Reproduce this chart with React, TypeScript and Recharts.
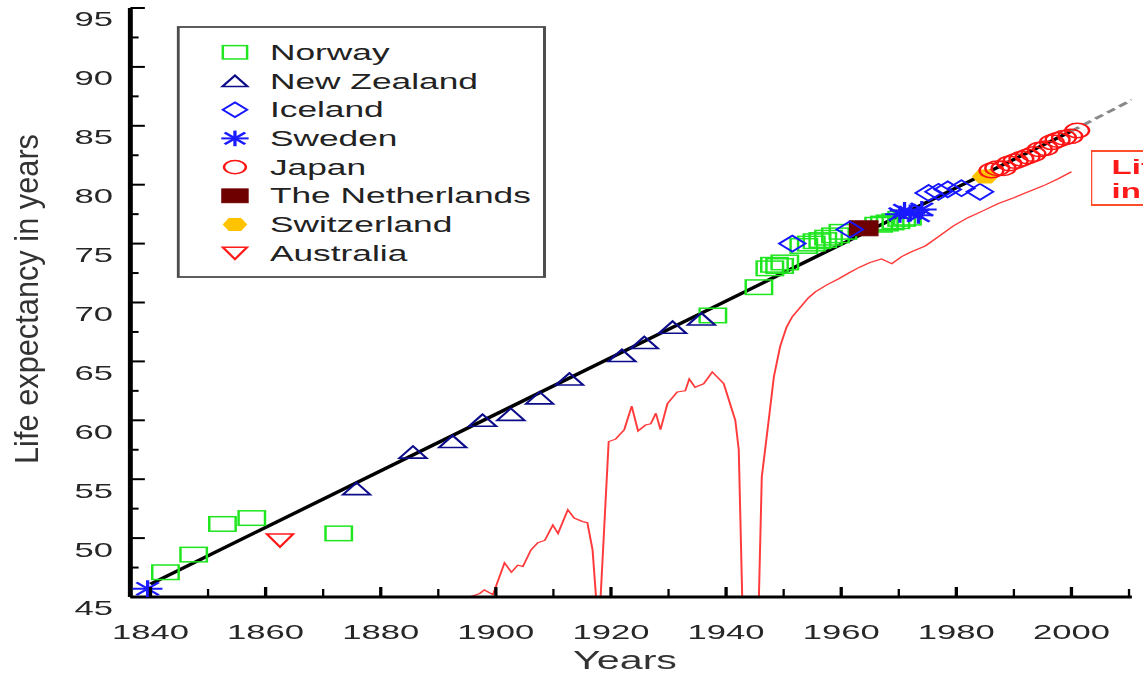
import React from 'react';
import { ComposedChart, XAxis, YAxis, Scatter, Line, Legend } from 'recharts';

const FONT = "'Liberation Sans', Arial, Helvetica, sans-serif";
const SX = 1.65; // the reference is stretched horizontally
const CW = 693;
const CH = 673;

const X_DOMAIN: [number, number] = [1836.5, 2010.5];
const Y_DOMAIN: [number, number] = [45, 95];
const X_TICKS = [1840, 1850, 1860, 1870, 1880, 1890, 1900, 1910, 1920, 1930, 1940, 1950, 1960, 1970, 1980, 1990, 2000, 2010];
const X_LABELS = [1840, 1860, 1880, 1900, 1920, 1940, 1960, 1980, 2000];
const Y_TICKS = [45, 47.5, 50, 52.5, 55, 57.5, 60, 62.5, 65, 67.5, 70, 72.5, 75, 77.5, 80, 82.5, 85, 87.5, 90, 92.5, 95];
const Y_LABELS = [45, 50, 55, 60, 65, 70, 75, 80, 85, 90, 95];

const NORWAY: [number, number][] = [
  [1842.6, 47.1], [1847.5, 48.6], [1852.5, 51.2], [1857.6, 51.7], [1872.7, 50.4],
  [1937.7, 68.9], [1945.7, 71.3], [1947.6, 72.9], [1948.4, 73.2], [1949.3, 73.1], [1950.2, 73.4],
  [1953.5, 74.8], [1954.8, 75.0], [1955.8, 75.2], [1956.8, 75.3], [1957.8, 75.5], [1959.0, 75.7], [1960.3, 76.0],
  [1966.5, 76.6], [1967.5, 76.7], [1968.5, 76.8], [1969.5, 76.9], [1970.5, 77.1], [1971.5, 77.2],
];
const NEW_ZEALAND: [number, number][] = [
  [1875.8, 54.2], [1885.6, 57.3], [1892.5, 58.2], [1897.7, 60.0], [1902.6, 60.5], [1907.6, 61.9],
  [1912.8, 63.5], [1921.9, 65.5], [1925.8, 66.6], [1930.7, 67.9], [1935.7, 68.6],
];
const ICELAND: [number, number][] = [
  [1951.5, 75.0], [1961.5, 76.2], [1975.2, 79.3], [1976.9, 79.4], [1978.5, 79.6], [1980.9, 79.7], [1984.1, 79.4],
];
const SWEDEN: [number, number][] = [
  [1839.5, 45.7], [1970.2, 77.5], [1971.0, 77.8], [1972.0, 77.6], [1973.4, 77.4], [1974.0, 77.9],
];
const JAPAN: [number, number][] = [
  [1986.1, 81.2], [1987.1, 81.4], [1988.2, 81.4], [1989.2, 81.8], [1990.3, 82.0], [1991.3, 82.2], [1992.4, 82.4],
  [1993.4, 82.6], [1994.5, 83.0], [1995.5, 83.1], [1996.6, 83.6], [1997.6, 83.8], [1998.7, 84.0], [1999.8, 84.1], [2001.0, 84.6],
];
const NETHERLANDS: [number, number][] = [[1963.9, 76.3]];
const SWITZERLAND: [number, number][] = [[1985.0, 80.7]];
const AUSTRALIA: [number, number][] = [[1862.5, 49.8]];

const TREND_SOLID: [number, number][] = [[1840, 46.1], [2000, 84.55]];
const TREND_DASHED: [number, number][] = [[2000, 84.55], [2010.5, 87.2]];

const GERMANY_LINE: [number, number][] = [
  [1895.4, 45.0], [1897.2, 45.3], [1898.0, 45.6], [1899.5, 45.2], [1901.5, 47.9], [1902.7, 47.1], [1903.8, 47.7],
  [1904.7, 47.6], [1906.1, 49.0], [1907.3, 49.6], [1908.5, 49.8], [1909.9, 51.1], [1910.8, 50.4], [1912.5, 52.4],
  [1913.6, 51.7], [1915.1, 51.4], [1915.9, 51.3], [1916.8, 49.0], [1917.4, 45.0], [1918.2, 45.0], [1919.6, 58.2],
  [1920.8, 58.4], [1922.3, 59.2], [1923.6, 61.2], [1924.7, 59.1], [1926.0, 59.6], [1926.9, 59.7], [1927.8, 60.6],
  [1928.6, 59.2], [1929.8, 61.4], [1931.5, 62.4], [1932.9, 62.5], [1933.6, 63.5], [1934.6, 62.8], [1936.1, 63.1],
  [1937.6, 64.1], [1939.6, 63.1], [1941.6, 60.0], [1942.2, 57.5], [1942.8, 45.0], [1945.7, 45.0], [1946.2, 55.2],
  [1947.4, 60.0], [1948.3, 63.7], [1949.4, 66.3], [1950.5, 67.9], [1951.5, 68.8], [1952.9, 69.6], [1954.3, 70.4],
  [1955.5, 70.9], [1957.5, 71.5], [1959.5, 72.0], [1961.3, 72.5], [1963.2, 73.0], [1965.0, 73.4], [1967.0, 73.7],
  [1968.8, 73.3], [1970.5, 73.9], [1972.2, 74.3], [1974.6, 74.8], [1976.9, 75.6], [1979.5, 76.5], [1982.0, 77.2],
  [1984.7, 77.8], [1987.3, 78.4], [1990.0, 78.9], [1992.5, 79.4], [1995.1, 79.9], [1997.7, 80.5], [2000.0, 81.1],
];

const toPts = (arr: [number, number][]) => arr.map(([x, y]) => ({ x, y }));

type Kind = 'square' | 'triUp' | 'diamond' | 'star' | 'circle' | 'filledSquare' | 'hexFilled' | 'triDown';

const COLORS: Record<Kind, string> = {
  square: '#1fe61f',
  triUp: '#0c0c8a',
  diamond: '#1616ff',
  star: '#1a1aff',
  circle: '#ff1414',
  filledSquare: '#6e0000',
  hexFilled: '#ffc300',
  triDown: '#ff1a1a',
};

function drawMarker(kind: Kind, cx: number, cy: number, small = false) {
  const c = COLORS[kind];
  const k = small ? 0.92 : 1;
  switch (kind) {
    case 'square': {
      const w = 16 * k, h = 14.5 * k;
      return <rect x={cx - w / 2} y={cy - h / 2} width={w} height={h} fill="none" stroke={c} strokeWidth={1.5} />;
    }
    case 'filledSquare': {
      const w = 17 * k, h = 15 * k;
      return <rect x={cx - w / 2} y={cy - h / 2} width={w} height={h} fill={c} stroke={c} strokeWidth={1} />;
    }
    case 'triUp': {
      const w = 16.5 * k, h = 12 * k;
      return <polygon points={`${cx},${cy - h / 2} ${cx - w / 2},${cy + h / 2} ${cx + w / 2},${cy + h / 2}`} fill="none" stroke={c} strokeWidth={1.6} />;
    }
    case 'triDown': {
      const w = 16 * k, h = 13 * k;
      return <polygon points={`${cx - w / 2},${cy - h / 2} ${cx + w / 2},${cy - h / 2} ${cx},${cy + h / 2}`} fill="none" stroke={c} strokeWidth={1.6} />;
    }
    case 'diamond': {
      const w = 16 * k, h = 16 * k;
      return <polygon points={`${cx},${cy - h / 2} ${cx + w / 2},${cy} ${cx},${cy + h / 2} ${cx - w / 2},${cy}`} fill="none" stroke={c} strokeWidth={1.6} />;
    }
    case 'star': {
      const w = 9 * k, h = 8.5 * k;
      return (
        <g stroke={c} strokeWidth={2}>
          <line x1={cx - w} y1={cy} x2={cx + w} y2={cy} />
          <line x1={cx} y1={cy - h} x2={cx} y2={cy + h} />
          <line x1={cx - w * 0.75} y1={cy - h * 0.75} x2={cx + w * 0.75} y2={cy + h * 0.75} />
          <line x1={cx - w * 0.75} y1={cy + h * 0.75} x2={cx + w * 0.75} y2={cy - h * 0.75} />
        </g>
      );
    }
    case 'circle':
      return <circle cx={cx} cy={cy} r={7.2 * k} fill="none" stroke={c} strokeWidth={1.5} />;
    case 'hexFilled': {
      const w = 7.5 * k, h = 6.5 * k;
      return <polygon points={`${cx - w},${cy} ${cx - w * 0.5},${cy - h} ${cx + w * 0.5},${cy - h} ${cx + w},${cy} ${cx + w * 0.5},${cy + h} ${cx - w * 0.5},${cy + h}`} fill={c} stroke={c} strokeWidth={1} />;
    }
  }
  return null;
}

const SERIES: { name: string; kind: Kind; data: [number, number][] }[] = [
  { name: 'Norway', kind: 'square', data: NORWAY },
  { name: 'New Zealand', kind: 'triUp', data: NEW_ZEALAND },
  { name: 'Iceland', kind: 'diamond', data: ICELAND },
  { name: 'Sweden', kind: 'star', data: SWEDEN },
  { name: 'Japan', kind: 'circle', data: JAPAN },
  { name: 'The Netherlands', kind: 'filledSquare', data: NETHERLANDS },
  { name: 'Switzerland', kind: 'hexFilled', data: SWITZERLAND },
  { name: 'Australia', kind: 'triDown', data: AUSTRALIA },
];

const DRAW_ORDER = ['Norway', 'New Zealand', 'The Netherlands', 'Iceland', 'Sweden', 'Switzerland', 'Japan', 'Australia'];

const XTickBottom = (props: any) => {
  const { x, y, payload } = props;
  const v = payload.value;
  const labeled = X_LABELS.includes(v);
  return (
    <g>
      <line x1={x} x2={x} y1={y} y2={y - (labeled ? 10 : 8)} stroke="#000" strokeWidth={labeled ? 2 : 1.4} />
      {labeled && (
        <text x={x} y={y + 42.5} textAnchor="middle" fontSize={21} fontFamily={FONT} fill="#262626">{v}</text>
      )}
    </g>
  );
};

const XTickTop = (props: any) => {
  const { x, y } = props;
  return <line x1={x} x2={x} y1={y} y2={y + 8} stroke="#000" strokeWidth={1.4} />;
};

const YTickLeft = (props: any) => {
  const { x, y, payload } = props;
  const v = payload.value;
  const labeled = Y_LABELS.includes(v);
  return (
    <g>
      <line x1={x} x2={x + (labeled ? 8.8 : 5)} y1={y} y2={y} stroke="#000" strokeWidth={2} />
      {labeled && (
        <text x={x - 10.5} y={y + 18.5} textAnchor="end" fontSize={21} fontFamily={FONT} fill="#262626">{v}</text>
      )}
    </g>
  );
};

const LegendBox = () => (
  <svg width={226} height={254} style={{ display: 'block' }}>
    <rect x={1} y={1} width={222} height={250} fill="#fff" stroke="#4d4d4d" strokeWidth={1.8} />
    {SERIES.map((s, i) => {
      const cy = 26.3 + i * 28.7;
      return (
        <g key={s.name}>
          {drawMarker(s.kind, 35.4, cy, true)}
          <text x={56.6} y={cy + 7.6} fontSize={21.4} fontFamily={FONT} fill="#222">{s.name}</text>
        </g>
      );
    })}
  </svg>
);

export default function App() {
  return (
    <div style={{ position: 'absolute', left: 0, top: 0, width: 1143, height: 673, overflow: 'hidden', background: '#fff' }}>
      <div style={{ position: 'relative', width: CW, height: CH, transform: `scaleX(${SX})`, transformOrigin: '0 0' }}>
        <ComposedChart width={CW} height={CH} margin={{ top: 8, right: 7, bottom: 0, left: 0 }}>
          <XAxis
            xAxisId="b"
            type="number"
            dataKey="x"
            domain={X_DOMAIN}
            ticks={X_TICKS}
            interval={0}
            allowDataOverflow
            height={76}
            axisLine={{ stroke: '#000', strokeWidth: 3 }}
            tickLine={false}
            tickSize={0}
            tickMargin={0}
            tick={XTickBottom}
            label={{
              content: () => (
                <text x={378.8} y={669} textAnchor="middle" fontSize={25} fontFamily={FONT} fill="#333">Years</text>
              ),
            }}
          />
          <XAxis
            xAxisId="t"
            orientation="top"
            type="number"
            dataKey="x"
            domain={X_DOMAIN}
            ticks={X_TICKS}
            interval={0}
            allowDataOverflow
            height={0}
            axisLine={{ stroke: '#000', strokeWidth: 3 }}
            tickLine={false}
            tickSize={0}
            tickMargin={0}
            tick={XTickTop}
          />
          <YAxis
            yAxisId="l"
            type="number"
            dataKey="y"
            domain={Y_DOMAIN}
            ticks={Y_TICKS}
            interval={0}
            allowDataOverflow
            width={79}
            axisLine={{ stroke: '#000', strokeWidth: 3 }}
            tickLine={false}
            tickSize={0}
            tickMargin={0}
            tick={YTickLeft}
            label={{
              content: () => (
                <text
                  transform="translate(23.2, 299) rotate(-90)"
                  textAnchor="middle"
                  fontSize={20}
                  fontFamily={FONT}
                  fill="#333"
                  textLength={330}
                  lengthAdjust="spacingAndGlyphs"
                >
                  Life expectancy in years
                </text>
              ),
            }}
          />
          <YAxis
            yAxisId="r"
            orientation="right"
            type="number"
            dataKey="y"
            domain={Y_DOMAIN}
            allowDataOverflow
            width={0}
            axisLine={{ stroke: '#000', strokeWidth: 3 }}
            tickLine={false}
            tick={false}
          />
          <Line
            xAxisId="b"
            yAxisId="l"
            data={toPts(GERMANY_LINE)}
            dataKey="y"
            type="linear"
            stroke="#ff3b3b"
            strokeWidth={1.2}
            dot={false}
            activeDot={false}
            isAnimationActive={false}
            legendType="none"
          />
          <Line
            xAxisId="b"
            yAxisId="l"
            data={toPts(TREND_SOLID)}
            dataKey="y"
            type="linear"
            stroke="#000"
            strokeWidth={3}
            dot={false}
            activeDot={false}
            isAnimationActive={false}
            legendType="none"
          />
          <Line
            xAxisId="b"
            yAxisId="l"
            data={toPts(TREND_DASHED)}
            dataKey="y"
            type="linear"
            stroke="#8a8a8a"
            strokeWidth={2.6}
            strokeDasharray="6 3.5"
            dot={false}
            activeDot={false}
            isAnimationActive={false}
            legendType="none"
          />
          {DRAW_ORDER.map((name) => {
            const s = SERIES.find((q) => q.name === name)!;
            return (
              <Scatter
                key={s.name}
                name={s.name}
                xAxisId="b"
                yAxisId="l"
                data={toPts(s.data)}
                fill={COLORS[s.kind]}
                isAnimationActive={false}
                shape={(p: any) => drawMarker(s.kind, p.cx, p.cy)}
              />
            );
          })}
          <Legend
            content={LegendBox}
            layout="horizontal"
            verticalAlign="middle"
            align="center"
            wrapperStyle={{ left: 107, top: 25.5, width: 226, height: 254 }}
          />
        </ComposedChart>
        <div
          style={{
            position: 'absolute',
            left: 661.2,
            top: 150,
            height: 49,
            paddingLeft: 11.5,
            paddingRight: 12,
            paddingTop: 3,
            borderTop: '2px solid #ff4d2e',
            borderBottom: '2px solid #ff4d2e',
            borderLeft: '1.3px solid #ff4d2e',
            borderRight: '1.3px solid #ff4d2e',
            boxSizing: 'content-box',
            fontFamily: FONT,
            fontWeight: 'bold',
            fontSize: 20,
            lineHeight: '24px',
            color: '#ff1a1a',
            whiteSpace: 'nowrap',
          }}
        >
          Life expectancy
          <br />
          in Germany
        </div>
      </div>
    </div>
  );
}
